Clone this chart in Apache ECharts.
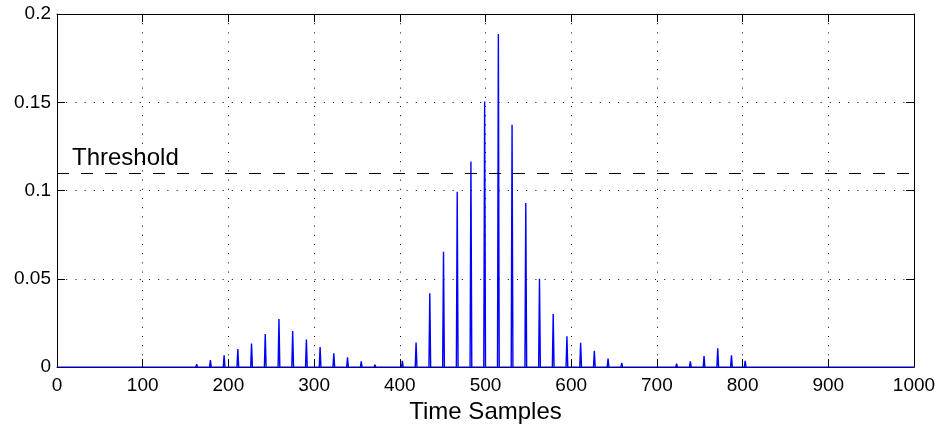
<!DOCTYPE html>
<html><head><meta charset="utf-8">
<script src="https://cdn.jsdelivr.net/npm/echarts@6/dist/echarts.min.js"></script>
<style>html,body{margin:0;padding:0;background:#fff;overflow:hidden}#chart{width:939px;height:429px}</style>
</head><body><div id="chart"></div>
<script>
// Spike positions (time samples) and peak amplitudes
const spikePositions = [147,163,179,195,211,227,243,259,275,291,307,323,339,355,371,387,
  403,419,435,451,467,483,499,515,531,547,563,579,595,611,627,643,659,675,691,
  707,723,739,755,771,787,803,819,835];
const spikeValues = [0.0007,0.0017,0.0040,0.0067,0.0102,0.0134,0.0188,0.0272,0.0205,0.0156,0.0113,0.0078,0.0056,0.0033,0.0014,0.0002,
  0.0035,0.0139,0.0418,0.0653,0.0993,0.1164,0.1505,0.1886,0.1372,0.0930,0.0500,0.0300,0.0175,0.0138,0.0092,0.0048,0.0024,0.0011,0.0002,
  0.0005,0.0020,0.0032,0.0063,0.0106,0.0067,0.0035,0.0011,0.0002];
const thresholdValue = 0.1064;
const thresholdLabel = 'Threshold';
const xRange = [0, 1000];
const xInterval = 100;
const yRange = [0, 0.2];
const yInterval = 0.05;
const xTitle = 'Time Samples';

const FONT = "'Liberation Sans', Arial, Helvetica, sans-serif";

// Build the sampled signal: zero baseline with one-sample-wide spikes
const signal = [[xRange[0], 0]];
spikePositions.forEach((p, i) => {
  signal.push([p - 1, 0], [p, spikeValues[i]], [p + 1, 0]);
});
signal.push([xRange[1], 0]);

const chart = echarts.init(document.getElementById('chart'), null, {renderer: 'canvas', width: 939, height: 429});
const axisLine = {show: true, onZero: false, lineStyle: {color: '#000', width: 1}};
const axisTick = {show: true, inside: true, length: 8, lineStyle: {color: '#000', width: 1}};
const gridDots = {show: true, lineStyle: {color: '#000', width: 1, type: [1, 8.2]}};
const plain = v => String(v);

chart.setOption({
  animation: false,
  backgroundColor: '#fff',
  grid: {left: 57, top: 14, width: 857, height: 359, containLabel: false},
  xAxis: [
    {type: 'value', position: 'bottom', min: xRange[0], max: xRange[1], interval: xInterval,
     axisLine, axisTick,
     axisLabel: {color: '#000', fontSize: 19, fontFamily: FONT, margin: 9, formatter: plain},
     splitLine: gridDots,
     name: xTitle, nameLocation: 'middle', nameGap: 30,
     nameTextStyle: {color: '#000', fontSize: 24, fontFamily: FONT}},
    {type: 'value', position: 'top', min: xRange[0], max: xRange[1], interval: xInterval,
     axisLine, axisTick, axisLabel: {show: false}, splitLine: {show: false}}
  ],
  yAxis: [
    {type: 'value', position: 'left', min: yRange[0], max: yRange[1], interval: yInterval,
     axisLine, axisTick,
     axisLabel: {color: '#000', fontSize: 19, fontFamily: FONT, margin: 6, formatter: plain},
     splitLine: gridDots},
    {type: 'value', position: 'right', min: yRange[0], max: yRange[1], interval: yInterval,
     axisLine, axisTick, axisLabel: {show: false}, splitLine: {show: false}}
  ],
  series: [{
    type: 'line',
    data: signal,
    showSymbol: false,
    symbol: 'none',
    lineStyle: {color: '#0000ff', width: 1.4},
    itemStyle: {color: '#0000ff'},
    z: 3,
    markLine: {
      silent: true,
      symbol: ['none', 'none'],
      lineStyle: {color: '#000', width: 1, type: [12, 12]},
      label: {show: true, position: 'insideStartTop', formatter: thresholdLabel,
              color: '#000', fontSize: 24, fontFamily: FONT, distance: [15, 3]},
      data: [{yAxis: thresholdValue}]
    }
  }]
});
</script></body></html>
